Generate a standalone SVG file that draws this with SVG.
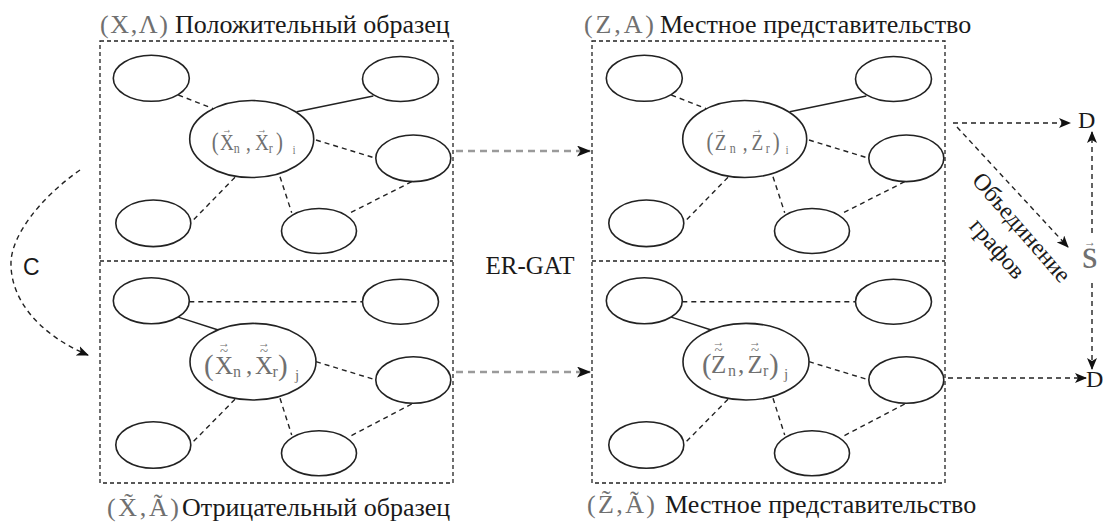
<svg xmlns="http://www.w3.org/2000/svg" width="1107" height="527" viewBox="0 0 1107 527">
<defs>
<style>
.t{font-family:"Liberation Serif","Times New Roman","DejaVu Serif",serif;fill:#1a1a1a}
.g{fill:#707070}
.box{fill:none;stroke:#222;stroke-width:1.3;stroke-dasharray:4 3}
.nd{fill:#fff;stroke:#222;stroke-width:1.6}
.e{stroke:#222;stroke-width:1.4;fill:none}
.d{stroke-dasharray:5 4}
.ga{stroke:#9a9a9a;stroke-width:2.5;stroke-dasharray:7 5;fill:none}
.ra{stroke:#222;stroke-width:1.4;stroke-dasharray:5 4;fill:none}
</style>
<marker id="ah" viewBox="0 0 12 10" refX="11" refY="5" markerWidth="12" markerHeight="10" markerUnits="userSpaceOnUse" orient="auto"><path d="M0,0 L12,5 L0,10 L3,5 z" fill="#111"/></marker>
<marker id="ahb" viewBox="0 0 14 11" refX="13" refY="5.5" markerWidth="14" markerHeight="11" markerUnits="userSpaceOnUse" orient="auto"><path d="M0,0 L14,5.5 L0,11 L3.5,5.5 z" fill="#111"/></marker>
</defs>
<rect width="1107" height="527" fill="#fff"/>

<!-- titles -->
<g id="title-pos"><text class="t" x="100" y="33" font-size="26"><tspan class="g" textLength="68" lengthAdjust="spacing">(X,Λ)</tspan><tspan x="175">Положительный образец</tspan></text></g>
<g id="title-loc1"><text class="t" x="584" y="33" font-size="26"><tspan class="g" textLength="70" lengthAdjust="spacing">(Z,A)</tspan><tspan x="660">Местное представительство</tspan></text></g>
<g id="title-neg"><text class="t" x="107" y="516" font-size="26"><tspan class="g" textLength="72" lengthAdjust="spacing">(X̃,Ã)</tspan><tspan x="182">Отрицательный образец</tspan></text></g>
<g id="title-loc2"><text class="t" x="587" y="513" font-size="26"><tspan class="g" textLength="68" lengthAdjust="spacing">(Z̃,Ã)</tspan><tspan x="665">Местное представительство</tspan></text></g>

<!-- boxes -->
<g id="box-left"><rect class="box" x="100" y="41" width="353" height="442"/><line class="box" x1="100" y1="261" x2="453" y2="261"/></g>
<g id="box-right"><rect class="box" x="592" y="41" width="353" height="442"/><line class="box" x1="592" y1="261" x2="945" y2="261"/></g>

<!-- connectors -->
<g id="connectors">
<line class="e d" x1="178.3" y1="95" x2="215" y2="109.3"/>
<line class="e" x1="296.7" y1="111.7" x2="373.3" y2="96"/>
<line class="e d" x1="316" y1="140" x2="376" y2="158.3"/>
<line class="e d" x1="235" y1="177.3" x2="191.7" y2="221.7"/>
<line class="e d" x1="280" y1="176.7" x2="291.7" y2="212.7"/>
<line class="e d" x1="411.7" y1="181.7" x2="349.3" y2="213.3"/>
<line class="e d" x1="189.3" y1="301.7" x2="362.7" y2="301.7"/>
<line class="e" x1="176.7" y1="316.7" x2="218.3" y2="330"/>
<line class="e d" x1="316" y1="361.7" x2="376" y2="380"/>
<line class="e d" x1="235" y1="399.3" x2="191.7" y2="443.3"/>
<line class="e d" x1="280" y1="398.3" x2="291.7" y2="435"/>
<line class="e d" x1="411.7" y1="404" x2="349.3" y2="436.7"/>
<g transform="translate(493,0)">
<line class="e d" x1="178.3" y1="95" x2="215" y2="109.3"/>
<line class="e" x1="296.7" y1="111.7" x2="373.3" y2="96"/>
<line class="e d" x1="316" y1="140" x2="376" y2="158.3"/>
<line class="e d" x1="235" y1="177.3" x2="191.7" y2="221.7"/>
<line class="e d" x1="280" y1="176.7" x2="291.7" y2="212.7"/>
<line class="e d" x1="411.7" y1="181.7" x2="349.3" y2="213.3"/>
<line class="e d" x1="189.3" y1="301.7" x2="362.7" y2="301.7"/>
<line class="e" x1="176.7" y1="316.7" x2="218.3" y2="330"/>
<line class="e d" x1="316" y1="361.7" x2="376" y2="380"/>
<line class="e d" x1="235" y1="399.3" x2="191.7" y2="443.3"/>
<line class="e d" x1="280" y1="398.3" x2="291.7" y2="435"/>
<line class="e d" x1="411.7" y1="404" x2="349.3" y2="436.7"/>
</g>
<line class="ga" x1="456" y1="151" x2="590" y2="151" marker-end="url(#ahb)"/>
<line class="ga" x1="456" y1="372" x2="590" y2="372" marker-end="url(#ahb)"/>
<path class="ra" d="M80,170 C40,198 12,235 11,262 C10,300 40,335 88,355" marker-end="url(#ah)"/>
<line class="ra" x1="953" y1="123" x2="1070" y2="123" marker-end="url(#ah)"/>
<line class="ra" x1="957" y1="127" x2="1068" y2="247" marker-end="url(#ah)"/>
<line class="ra" x1="948" y1="378" x2="1086" y2="378" marker-end="url(#ah)"/>
<line class="ra" x1="1092" y1="233" x2="1092" y2="132" marker-end="url(#ah)"/>
<line class="ra" x1="1092" y1="283" x2="1092" y2="369" marker-end="url(#ah)"/>
</g>

<!-- left box, positive sample -->
<g id="pos-tl"><ellipse class="nd" cx="151.3" cy="78.3" rx="38" ry="23"/></g>
<g id="pos-tr"><ellipse class="nd" cx="400.5" cy="79" rx="38" ry="22.5"/></g>
<g id="pos-c"><ellipse class="nd" cx="251.7" cy="139" rx="62" ry="38.5"/>
<g transform="translate(251.7,149.5) scale(0.8,1)">
<text class="t g" font-size="24"><tspan x="-50" y="0" font-size="26">(</tspan><tspan x="-39.6" y="0">X</tspan><tspan x="-22.5" y="3" font-size="15">n</tspan><tspan x="-7.1" y="0">,</tspan><tspan x="4.1" y="0">X</tspan><tspan x="21.3" y="3" font-size="15">r</tspan><tspan x="30.4" y="0" font-size="26">)</tspan><tspan x="51.3" y="4" font-size="12">i</tspan><tspan x="-30.9" y="-16.5" font-size="12" text-anchor="middle">→</tspan><tspan x="12.8" y="-16.5" font-size="12" text-anchor="middle">→</tspan></text>
</g></g>
<g id="pos-rm"><ellipse class="nd" cx="413.3" cy="158.3" rx="37.5" ry="23.3"/></g>
<g id="pos-bl"><ellipse class="nd" cx="153.3" cy="223.3" rx="37.5" ry="23.3"/></g>
<g id="pos-bm"><ellipse class="nd" cx="319" cy="231" rx="37.5" ry="22.5"/></g>

<!-- left box, negative sample -->
<g id="neg-tl"><ellipse class="nd" cx="151.3" cy="300.7" rx="38" ry="23"/></g>
<g id="neg-tr"><ellipse class="nd" cx="400.5" cy="301.7" rx="38" ry="22.5"/></g>
<g id="neg-c"><ellipse class="nd" cx="253" cy="361.7" rx="63" ry="38.3"/>
<text class="t g" transform="translate(253,374)" font-size="25"><tspan x="-49" y="1" font-size="29">(</tspan><tspan x="-38" y="0">X</tspan><tspan x="-20" y="3" font-size="16">n</tspan><tspan x="-7" y="0">,</tspan><tspan x="2" y="0">X</tspan><tspan x="19.5" y="3" font-size="16">r</tspan><tspan x="25" y="1" font-size="29">)</tspan><tspan x="42" y="6" font-size="15">j</tspan><tspan x="-29" y="-27" font-size="12" text-anchor="middle">→</tspan><tspan x="11" y="-27" font-size="12" text-anchor="middle">→</tspan><tspan x="-29" y="-18" font-size="15" text-anchor="middle">~</tspan><tspan x="11" y="-18" font-size="15" text-anchor="middle">~</tspan></text>
</g>
<g id="neg-rm"><ellipse class="nd" cx="413.3" cy="380" rx="37.5" ry="23.3"/></g>
<g id="neg-bl"><ellipse class="nd" cx="153.3" cy="445" rx="37.5" ry="23.3"/></g>
<g id="neg-bm"><ellipse class="nd" cx="319" cy="453.3" rx="37.5" ry="22.5"/></g>

<!-- right box, local representation (positive) -->
<g id="loc-tl"><ellipse class="nd" cx="644.3" cy="78.3" rx="38" ry="23"/></g>
<g id="loc-tr"><ellipse class="nd" cx="893.5" cy="79" rx="38" ry="22.5"/></g>
<g id="loc-c"><ellipse class="nd" cx="744.7" cy="139" rx="62" ry="38.5"/>
<g transform="translate(744.7,149.5) scale(0.8,1)">
<text class="t g" font-size="24"><tspan x="-47.9" y="0" font-size="26">(</tspan><tspan x="-37.5" y="0">Z</tspan><tspan x="-18.8" y="3" font-size="15">n</tspan><tspan x="-2.5" y="0">,</tspan><tspan x="8.4" y="0">Z</tspan><tspan x="26.3" y="3" font-size="15">r</tspan><tspan x="35" y="0" font-size="26">)</tspan><tspan x="51.3" y="4" font-size="12">i</tspan><tspan x="-30.2" y="-16.5" font-size="12" text-anchor="middle">→</tspan><tspan x="15.7" y="-16.5" font-size="12" text-anchor="middle">→</tspan></text>
</g></g>
<g id="loc-rm"><ellipse class="nd" cx="906.3" cy="158.3" rx="37.5" ry="23.3"/></g>
<g id="loc-bl"><ellipse class="nd" cx="646.3" cy="223.3" rx="37.5" ry="23.3"/></g>
<g id="loc-bm"><ellipse class="nd" cx="812" cy="231" rx="37.5" ry="22.5"/></g>

<!-- right box, local representation (negative) -->
<g id="locn-tl"><ellipse class="nd" cx="644.3" cy="300.7" rx="38" ry="23"/></g>
<g id="locn-tr"><ellipse class="nd" cx="893.5" cy="301.7" rx="38" ry="22.5"/></g>
<g id="locn-c"><ellipse class="nd" cx="746" cy="361.7" rx="63" ry="38.3"/>
<text class="t g" transform="translate(746,373)" font-size="25"><tspan x="-44" y="1" font-size="29">(</tspan><tspan x="-35" y="0">Z</tspan><tspan x="-18" y="3" font-size="16">n</tspan><tspan x="-8" y="0">,</tspan><tspan x="1.5" y="0">Z</tspan><tspan x="17" y="3" font-size="16">r</tspan><tspan x="23" y="1" font-size="29">)</tspan><tspan x="38" y="6" font-size="15">j</tspan><tspan x="-27.4" y="-27" font-size="12" text-anchor="middle">→</tspan><tspan x="9.1" y="-27" font-size="12" text-anchor="middle">→</tspan><tspan x="-27.4" y="-18" font-size="15" text-anchor="middle">~</tspan><tspan x="9.1" y="-18" font-size="15" text-anchor="middle">~</tspan></text>
</g>
<g id="locn-rm"><ellipse class="nd" cx="906.3" cy="380" rx="37.5" ry="23.3"/></g>
<g id="locn-bl"><ellipse class="nd" cx="646.3" cy="445" rx="37.5" ry="23.3"/></g>
<g id="locn-bm"><ellipse class="nd" cx="812" cy="453.3" rx="37.5" ry="22.5"/></g>

<!-- free labels -->
<g id="er-gat"><text class="t" x="530" y="274" font-size="25" text-anchor="middle">ER-GAT</text></g>
<g id="c-label"><text x="23" y="275" font-size="23" font-family="Liberation Sans, Arial, sans-serif" fill="#1a1a1a">C</text></g>
<g id="d-top"><text class="t" x="1078" y="128" font-size="24">D</text></g>
<g id="d-bottom"><text class="t" x="1086" y="387" font-size="24">D</text></g>
<g id="s-label"><text class="t g" font-size="40"><tspan x="1082" y="268">s</tspan><tspan x="1090" y="246" font-size="12" text-anchor="middle">→</tspan></text></g>
<g id="merge-label" transform="translate(1021,228) rotate(49)"><text class="t" x="0" y="7" font-size="24" text-anchor="middle">Объединение</text><text class="t" x="0" y="39" font-size="24" text-anchor="middle">графов</text></g>
</svg>
